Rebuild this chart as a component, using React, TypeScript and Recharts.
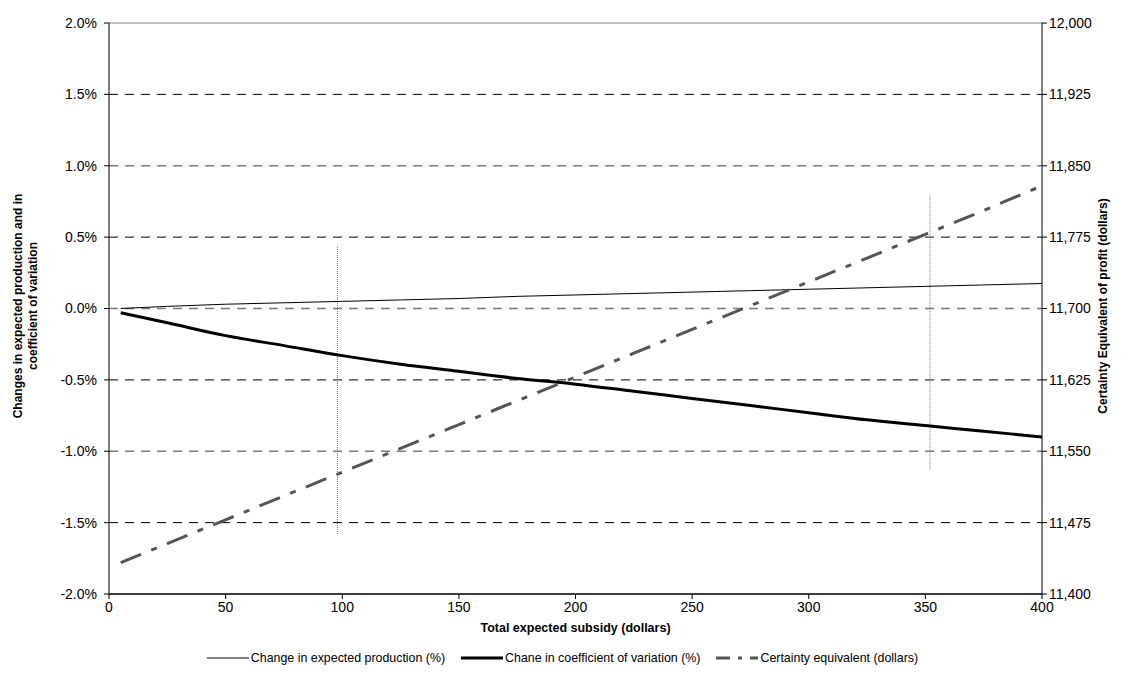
import {
  LineChart,
  Line,
  XAxis,
  YAxis,
  ReferenceLine,
  Legend,
} from 'recharts'

// total expected subsidy (dollars)
const subsidy = [5, 25, 50, 75, 100, 125, 150, 175, 200, 225, 250, 275, 300, 325, 350, 375, 400]
// change in expected production (%)
const productionChange = [0.0, 0.015, 0.03, 0.04, 0.05, 0.06, 0.07, 0.085, 0.095, 0.105, 0.115, 0.125, 0.135, 0.145, 0.155, 0.165, 0.175]
// change in coefficient of variation (%)
const cvChange = [-0.03, -0.1, -0.19, -0.26, -0.33, -0.39, -0.44, -0.49, -0.53, -0.58, -0.63, -0.68, -0.73, -0.78, -0.82, -0.86, -0.9]
// certainty equivalent (dollars)
const certaintyEquivalent = [11433, 11453, 11478, 11503, 11528, 11553, 11578, 11603, 11628, 11653, 11678, 11703, 11728, 11753, 11778, 11803, 11829]

const xTicks = [0, 50, 100, 150, 200, 250, 300, 350, 400]
const leftTicks = [-2, -1.5, -1, -0.5, 0, 0.5, 1, 1.5, 2]
const rightTicks = [11400, 11475, 11550, 11625, 11700, 11775, 11850, 11925, 12000]
// dotted vertical markers (x, low %, high %)
const markers = [
  { x: 98, low: -1.58, high: 0.44 },
  { x: 352, low: -1.13, high: 0.8 },
]

const FONT = '"Liberation Sans", Arial, sans-serif'

const data = subsidy.map((s, i) => ({
  s,
  prod: productionChange[i],
  cv: cvChange[i],
  ce: certaintyEquivalent[i],
}))

const legendItems = [
  { label: 'Change in expected production (%)', width: 1, color: '#000', dash: undefined },
  { label: 'Chane in coefficient of variation (%)', width: 3, color: '#000', dash: undefined },
  { label: 'Certainty equivalent (dollars)', width: 3, color: '#555', dash: '14 8 4 8' },
]

function LegendContent() {
  return (
    <div style={{ display: 'flex', justifyContent: 'center', gap: 16, fontFamily: FONT, fontSize: 12.4, color: '#000' }}>
      {legendItems.map((it) => (
        <div key={it.label} style={{ display: 'flex', alignItems: 'center', gap: 2 }}>
          <svg width={42} height={10}>
            <line x1={0} y1={5} x2={42} y2={5} stroke={it.color} strokeWidth={it.width} strokeDasharray={it.dash} />
          </svg>
          <span>{it.label}</span>
        </div>
      ))}
    </div>
  )
}

function LeftTitle() {
  return (
    <text
      transform="translate(18 306) rotate(-90)"
      textAnchor="middle"
      fontFamily={FONT}
      fontSize={12}
      fontWeight="bold"
      fill="#000"
    >
      <tspan x={0} dy={4}>Changes in expected production and in</tspan>
      <tspan x={0} dy={15}>coefficient of variation</tspan>
    </text>
  )
}

function RightTitle() {
  return (
    <text
      transform="translate(1107 306) rotate(-90)"
      textAnchor="middle"
      fontFamily={FONT}
      fontSize={12}
      fontWeight="bold"
      fill="#000"
    >
      Certainty Equivalent of profit (dollars)
    </text>
  )
}

const tickStyle = { fontFamily: FONT, fontSize: 14, fill: '#000' }

export default function App() {
  return (
    <div style={{ position: 'absolute', left: 0, top: 0, width: 1125, height: 693, background: '#fff' }}>
      <LineChart width={1125} height={693} data={data} margin={{ top: 23, right: 0, bottom: 59, left: 0 }}>
        <XAxis
          dataKey="s"
          type="number"
          domain={[0, 400]}
          ticks={xTicks}
          tickSize={5}
          tickMargin={3}
          height={40}
          tick={tickStyle}
          stroke="#000"
          label={{ value: 'Total expected subsidy (dollars)', position: 'insideBottom', offset: 2, style: { fontFamily: FONT, fontSize: 12.5, fontWeight: 'bold', fill: '#000' } }}
        />
        <YAxis
          yAxisId="left"
          type="number"
          domain={[-2, 2]}
          ticks={leftTicks}
          width={109}
          tickSize={5}
          tickMargin={7}
          tick={tickStyle}
          tickFormatter={(v: number) => `${v.toFixed(1)}%`}
          stroke="#000"
          label={{ content: <LeftTitle /> }}
        />
        <YAxis
          yAxisId="right"
          orientation="right"
          type="number"
          domain={[11400, 12000]}
          ticks={rightTicks}
          width={83}
          tickSize={5}
          tickMargin={2}
          tick={tickStyle}
          tickFormatter={(v: number) => v.toLocaleString('en-US')}
          stroke="#000"
          label={{ content: <RightTitle /> }}
        />
        {leftTicks.map((t) => {
          const major = t === 2
          const gray = Math.abs(t) === 1 || t === 0
          return (
            <ReferenceLine
              key={t}
              yAxisId="left"
              y={t}
              stroke={major ? '#808080' : gray ? '#7a7a7a' : '#000'}
              strokeWidth={major ? 1 : gray ? 1.5 : 1}
              strokeDasharray={major || t === -2 ? undefined : '9 7'}
            />
          )
        })}
        {markers.map((m) => (
          <ReferenceLine
            key={m.x}
            yAxisId="left"
            segment={[{ x: m.x, y: m.low }, { x: m.x, y: m.high }]}
            stroke="#777"
            strokeWidth={1}
            strokeDasharray="1 1"
          />
        ))}
        <Line
          yAxisId="left"
          dataKey="prod"
          type="monotone"
          stroke="#000"
          strokeWidth={1}
          dot={false}
          isAnimationActive={false}
        />
        <Line
          yAxisId="left"
          dataKey="cv"
          type="monotone"
          stroke="#000"
          strokeWidth={3}
          dot={false}
          isAnimationActive={false}
        />
        <Line
          yAxisId="right"
          dataKey="ce"
          type="linear"
          stroke="#555"
          strokeWidth={3}
          strokeDasharray="22 11 6 11"
          dot={false}
          isAnimationActive={false}
        />
        <Legend
          layout="horizontal"
          verticalAlign="middle"
          align="center"
          content={<LegendContent />}
          wrapperStyle={{ top: 651, left: 0, width: 1125 }}
        />
      </LineChart>
    </div>
  )
}
